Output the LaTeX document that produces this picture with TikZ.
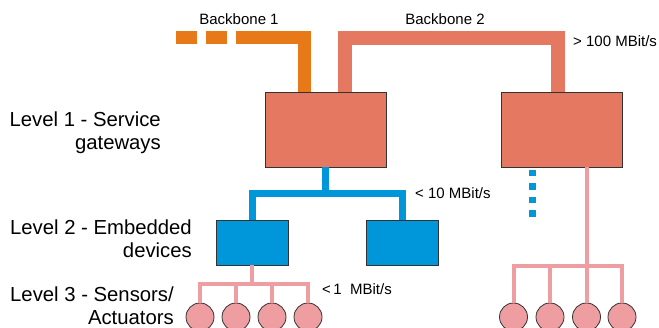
\documentclass[tikz,border=0pt]{standalone}
\usepackage{fontspec}
\setmainfont{Liberation Sans}
\usetikzlibrary{positioning}
\definecolor{bbOrange}{RGB}{232,121,24}
\definecolor{gwRed}{RGB}{229,120,96}
\definecolor{devBlue}{RGB}{0,150,218}
\definecolor{snPink}{RGB}{238,157,161}
\begin{document}
\begin{tikzpicture}[x=1pt,y=-1pt,line join=miter,
 font=\fontsize{15}{18}\selectfont,
 gateway/.style={draw=black!80,line width=.8pt,fill=gwRed,minimum width=121pt,
  minimum height=75pt,inner sep=0pt},
 device/.style={draw=black!80,line width=.8pt,fill=devBlue,minimum width=72pt,
  minimum height=45pt,inner sep=0pt},
 sensor/.style={circle,draw=black!80,line width=.8pt,fill=snPink,minimum size=28pt,
  inner sep=0pt},
 level/.style={align=right,anchor=east,inner sep=0pt,
  font=\fontsize{20.3}{23}\selectfont},
 rate/.style={anchor=west,inner sep=0pt},
 bbone1/.style={draw=bbOrange,line width=13pt},
 bbone2/.style={draw=gwRed,line width=14pt},
 blueline/.style={draw=devBlue,line width=7pt},
 pinkline/.style={draw=snPink,line width=4pt}]
\useasboundingbox (0,0) rectangle (659,328);
% boxes
\node[gateway] (gw1) at (325.5,129.5) {};
\node[gateway] (gw2) at (562,129.5) {};
\node[device] (dv1) at (252,242.5) {};
\node[device] (dv2) at (402,242.5) {};
% backbones
\coordinate (b1) at (176,37.5);
\coordinate (b1top) at (304,37.5);
\coordinate (b2) at (0,38);
\draw[bbone1,dash pattern=on 21pt off 9pt on 21pt off 9pt on 300pt]
 (b1) -- (b1top) -- (b1top |- gw1.north);
\draw[bbone2] ([xshift=19.5pt]gw1.north) -- ([xshift=19.5pt]gw1.north |- b2)
 -- ([xshift=-4.5pt]gw2.north |- b2) -- ([xshift=-4.5pt]gw2.north);
% level 2 bus
\coordinate (bb) at (0,194);
\draw[blueline] (gw1.south) -- (gw1.south |- bb);
\draw[blueline] (dv1.north) -- (dv1.north |- bb) -- (dv2.north |- bb) -- (dv2.north);
\coordinate (dt) at (532.5,170);
\coordinate (db) at (532.5,217);
\draw[blueline,dash pattern=on 6.5pt off 7pt] (dt) -- (db);
% sensors
\foreach \x [count=\i] in {200,236,272,308}{
 \node[sensor] (sl\i) at (\x,317) {};
 \draw[pinkline] (sl\i.north) -- ++(0,-19);
}
\foreach \x [count=\i] in {513.5,550,586.5,622}{
 \node[sensor] (sr\i) at (\x,317) {};
 \draw[pinkline] (sr\i.north) -- ++(0,-36);
}
\coordinate (pl) at (0,284);
\coordinate (pr) at (0,266.5);
\draw[pinkline] (dv1.south) -- (dv1.south |- pl);
\draw[pinkline] ([xshift=-2pt]sl1.north |- pl) -- ([xshift=2pt]sl4.north |- pl);
\draw[pinkline] (sr3.north |- gw2.south) -- (sr3.north |- pr);
\draw[pinkline] ([xshift=-2pt]sr1.north |- pr) -- ([xshift=2pt]sr4.north |- pr);
% texts
\node (lb1) at (239,19) {Backbone 1};
\node (lb2) at (445,19) {Backbone 2};
\node[rate] (r100) at (573,41) {> 100 MBit/s};
\node[rate] (r10) at (415,193) {< 10 MBit/s};
\node[rate] (r1) at (322,289) {<\,1\ \ MBit/s};
\node[level] (lv1) at (161,133) {Level 1 - Service\\gateways};
\node[level] (lv2) at (192,239) {Level 2 - Embedded\\devices};
\node[level] (lv3) at (174,306) {Level 3 - Sensors/\\Actuators};
\end{tikzpicture}
\end{document}
